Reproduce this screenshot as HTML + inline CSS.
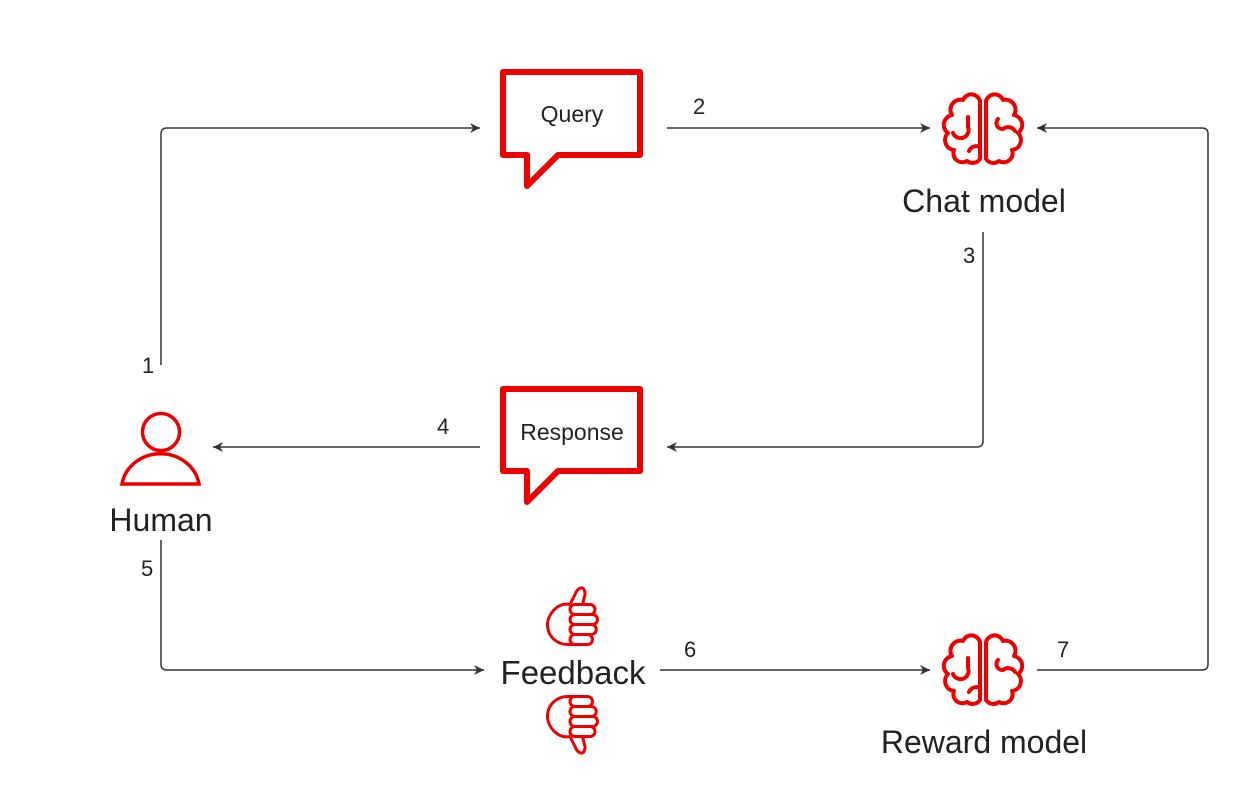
<!DOCTYPE html>
<html><head><meta charset="utf-8"><style>
html,body{margin:0;padding:0;background:#fff;}
svg{display:block;}
text{font-family:"Liberation Sans",sans-serif;fill:#222;}
</style></head><body>
<svg width="1243" height="803" viewBox="0 0 1243 803" xmlns="http://www.w3.org/2000/svg">
<defs>
<marker id="ah" markerWidth="12" markerHeight="12" refX="11" refY="6" orient="auto" markerUnits="userSpaceOnUse">
<path d="M1,1 L11,6 L1,11 L4,6 Z" fill="#333"/>
</marker>
<g id="brain" fill="none" stroke="#e00" stroke-width="4" stroke-linecap="round" stroke-linejoin="round">
<path d="M-3,8 A9 9 0 0 0 -20,7 A10 10 0 0 0 -31,22 A10 10 0 0 0 -35,40 A10 10 0 0 0 -29,57 A9 9 0 0 0 -16,68 A9 9 0 0 0 -3,66 L-3,8"/>
<path d="M3,8 A9 9 0 0 1 20,7 A10 10 0 0 1 31,22 A10 10 0 0 1 35,40 A10 10 0 0 1 29,57 A9 9 0 0 1 16,68 A9 9 0 0 1 3,66 L3,8"/>
<path d="M-15,24 L-15,34 A8 8 0 0 1 -30,40"/>
<path d="M-14,58 A8 8 0 0 1 -3,54"/>
<path d="M15,26 A6 6 0 0 0 20,36 A8 8 0 0 1 32,38"/>
</g>
<g id="thumb" fill="none" stroke="#e00" stroke-width="2.4" stroke-linejoin="round">
<path d="M0,-10 C-10,-12 -18,-2 -18,6 C-18,16 -10,22 -2,22 L10,22 M0,-10 L4,-18 C6,-24 12,-26 12,-18 L10,-10"/>
<rect x="0" y="-10" width="20" height="8" rx="4"/>
<rect x="0" y="-2" width="22" height="8" rx="4"/>
<rect x="0" y="6" width="21" height="8" rx="4"/>
<rect x="0" y="14" width="18" height="8" rx="4"/>
</g>
</defs>

<g fill="none" stroke="#333" stroke-width="1.5">
<path d="M161,365 L161,134 Q161,128 167,128 L480,128" marker-end="url(#ah)"/>
<path d="M667,128 L930,128" marker-end="url(#ah)"/>
<path d="M983,232 L983,441 Q983,447 977,447 L667,447" marker-end="url(#ah)"/>
<path d="M480,447 L213,447" marker-end="url(#ah)"/>
<path d="M161,540 L161,664 Q161,670 167,670 L484,670" marker-end="url(#ah)"/>
<path d="M660,670 L930,670" marker-end="url(#ah)"/>
<path d="M1037,670 L1202,670 Q1208,670 1208,664 L1208,134 Q1208,128 1202,128 L1037,128" marker-end="url(#ah)"/>
</g>

<g font-size="22">
<text x="142" y="373">1</text>
<text x="693" y="114">2</text>
<text x="963" y="263">3</text>
<text x="437" y="434">4</text>
<text x="141" y="576">5</text>
<text x="684" y="657">6</text>
<text x="1057" y="657">7</text>
</g>

<g fill="none" stroke="#e00" stroke-width="6" stroke-linejoin="round">
<path d="M527,155 L503,155 L503,72 L640,72 L640,155 L558,155 L527,186 Z"/>
<path d="M527,471 L503,471 L503,389 L640,389 L640,471 L558,471 L527,502 Z"/>
</g>
<text x="572" y="122" font-size="23" text-anchor="middle">Query</text>
<text x="572" y="440" font-size="23" text-anchor="middle">Response</text>

<use href="#brain" x="983" y="93"/>
<use href="#brain" x="983" y="634"/>
<text x="984" y="212" font-size="32" text-anchor="middle">Chat model</text>
<text x="984" y="753" font-size="32" text-anchor="middle">Reward model</text>

<g fill="none" stroke="#e00" stroke-width="3.5">
<circle cx="161" cy="432" r="18.5"/>
<path d="M122,484 A39 36 0 0 1 199,484 Z"/>
</g>
<text x="161" y="531" font-size="32" text-anchor="middle">Human</text>

<use href="#thumb" transform="translate(570,617) scale(1.25)"/>
<use href="#thumb" transform="translate(570,724) scale(1.25,-1.25)"/>
<text x="573" y="684" font-size="33" text-anchor="middle">Feedback</text>
</svg>
</body></html>
